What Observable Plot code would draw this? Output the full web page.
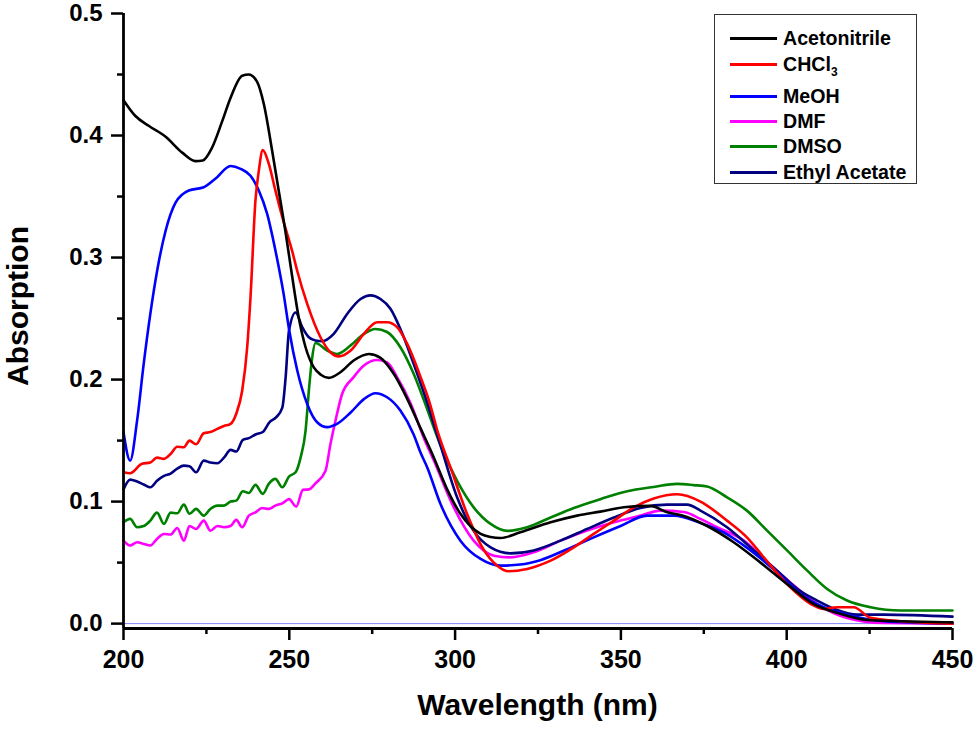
<!DOCTYPE html>
<html><head><meta charset="utf-8">
<script src="https://cdn.jsdelivr.net/npm/d3@7"></script>
<script src="https://cdn.jsdelivr.net/npm/@observablehq/plot@0.6"></script>
<style>
body{margin:0;background:#fff;}
#wrap{position:relative;width:975px;height:731px;font-family:"Liberation Sans",Arial,sans-serif;overflow:hidden;}
#legend{position:absolute;left:714px;top:14px;width:203px;height:170px;border:1.5px solid #333;background:#fff;box-sizing:border-box;}
.row{position:absolute;left:0;height:0;}
.sw{position:absolute;left:15px;width:47px;height:3px;margin-top:-1.5px;}
.lb{position:absolute;left:68px;top:-12px;font-size:19.6px;font-weight:bold;white-space:nowrap;line-height:24px;color:#000;}
.lb sub{font-size:12px;vertical-align:-5px;line-height:0;}
.title{position:absolute;font-size:30px;font-weight:bold;line-height:30px;height:30px;text-align:center;color:#000;white-space:nowrap;}
#xtitle{left:123px;width:829px;top:690px;}
#ytitle{left:-132px;width:300px;top:291px;transform:rotate(-90deg);transform-origin:50% 50%;}
</style>
</head><body>
<div id="wrap"></div>
<script>
// wavelength (nm), absorption
const acetonitrile = [[200,0.429],[203.6,0.416],[207.6,0.408],[212.7,0.399],[217.7,0.386],[221.7,0.379],[223.9,0.3795],[226.7,0.390],[229.8,0.412],[232.3,0.431],[235.8,0.449],[237.8,0.450],[240.3,0.444],[242.3,0.426],[244.8,0.388],[246.8,0.355],[248.8,0.322],[250.4,0.293],[252.9,0.250],[254.9,0.2265],[257.4,0.210],[259.5,0.204],[261.9,0.2014],[265.4,0.206],[269.4,0.2156],[274.0,0.221],[277.5,0.2178],[281.5,0.2047],[285.6,0.184],[289.6,0.160],[293.6,0.136],[297.6,0.110],[301.6,0.090],[304.6,0.080],[307.7,0.0735],[310.7,0.0710],[313.7,0.0702],[319.7,0.0748],[328.8,0.083],[336.8,0.0885],[343.8,0.0918],[350.9,0.0953],[358.9,0.0965],[364,0.0912],[368,0.089],[376,0.080],[384,0.0667],[392.1,0.050],[400.1,0.0325],[408.2,0.016],[416.2,0.008],[424.3,0.003],[434.3,0.002],[450,0.001]];
const chcl3 = [[200,0.124],[202,0.1232],[205.6,0.131],[208.1,0.132],[210.1,0.136],[212.2,0.135],[214.2,0.139],[216.2,0.145],[218.2,0.1445],[219.9,0.150],[221.9,0.147],[224.2,0.156],[226.2,0.157],[228.3,0.1596],[230.3,0.162],[232.3,0.1637],[234,0.172],[235.8,0.191],[237.3,0.2265],[238.3,0.2675],[239.8,0.347],[240.8,0.371],[242,0.388],[243.8,0.377],[245.8,0.355],[247.9,0.333],[250.9,0.305],[252.4,0.289],[255.4,0.262],[259.4,0.2347],[262.4,0.2224],[264.9,0.219],[268.5,0.2238],[272.5,0.2375],[276.5,0.247],[279.5,0.247],[282.5,0.243],[285.6,0.229],[289.6,0.202],[292.1,0.183],[295,0.155],[298.6,0.128],[303.6,0.090],[308.2,0.0625],[312.7,0.0475],[316.2,0.0429],[321.7,0.0448],[328.8,0.0516],[335.8,0.0625],[341.8,0.0735],[347.9,0.0844],[353.9,0.0953],[359.9,0.1025],[367,0.106],[374,0.100],[382,0.0844],[388,0.0707],[393.1,0.0543],[400.1,0.0325],[408.2,0.0148],[411,0.012],[415.2,0.0134],[420.2,0.0134],[425.3,0.0047],[434.3,0.002],[450,0]];
const meoh = [[200,0.157],[202,0.1336],[204.1,0.1664],[206.1,0.213],[208.1,0.254],[210.2,0.290],[212.7,0.322],[215.7,0.345],[219.7,0.355],[224.2,0.3576],[227.7,0.3645],[232.3,0.375],[235.3,0.3727],[238.3,0.367],[240.8,0.355],[243.3,0.336],[245.8,0.306],[248.3,0.270],[250,0.240],[252.4,0.2074],[255.4,0.180],[258.4,0.165],[261.4,0.161],[264.4,0.1637],[268.5,0.173],[272.5,0.184],[276,0.1888],[279.5,0.1855],[283.5,0.1746],[287.5,0.155],[289.6,0.140],[291.6,0.128],[295.6,0.098],[301.6,0.068],[307.7,0.053],[313.7,0.0475],[319.7,0.0484],[325.7,0.052],[333.8,0.061],[341.8,0.0707],[349.9,0.080],[357.9,0.0885],[366,0.0885],[374,0.0825],[381,0.0748],[389.1,0.060],[397.1,0.042],[404.2,0.0243],[411.2,0.0134],[419.2,0.0066],[429.3,0.002],[450,0]];
const dmf = [[200,0.068],[202,0.064],[204.1,0.0667],[206.1,0.0653],[208.1,0.064],[210.1,0.0694],[212.2,0.0735],[214.2,0.073],[216.2,0.0784],[218.2,0.068],[219.9,0.080],[221.9,0.0776],[224.2,0.0844],[226.2,0.0762],[228.3,0.080],[230.3,0.079],[232.3,0.080],[234,0.085],[235.8,0.079],[237.8,0.0885],[239.8,0.0912],[241.8,0.0948],[243.8,0.094],[245.8,0.0967],[247.9,0.0986],[249.9,0.102],[252.1,0.0959],[254.1,0.1096],[255.9,0.110],[257.9,0.115],[260.9,0.125],[262.4,0.147],[264.4,0.172],[265.9,0.188],[269.4,0.202],[272.5,0.2115],[276.5,0.216],[279.5,0.214],[282.5,0.202],[286.5,0.181],[290.6,0.152],[293.6,0.1336],[299.6,0.0953],[305.6,0.068],[311.7,0.0557],[316.7,0.0543],[323.7,0.0584],[331.8,0.068],[339.8,0.0762],[347.9,0.083],[355.9,0.0885],[361.9,0.0926],[369,0.0915],[374,0.0858],[379,0.079],[387.1,0.068],[393.1,0.053],[401.1,0.0338],[409.2,0.016],[418.2,0.0047],[429.3,0.0005],[450,0]];
const dmso = [[200,0.083],[202,0.0858],[204.1,0.079],[206.1,0.080],[208.1,0.0844],[210.1,0.091],[212.2,0.0817],[214.2,0.091],[216.2,0.0904],[218.2,0.0975],[219.9,0.090],[221.9,0.094],[224.2,0.0885],[226.2,0.094],[228.3,0.0967],[230.3,0.0967],[232.3,0.100],[234,0.1008],[236,0.1085],[237.8,0.107],[239.8,0.1137],[242,0.1063],[243.8,0.1145],[245.8,0.1186],[247.9,0.1117],[249.9,0.1205],[251.9,0.124],[253.4,0.136],[254.9,0.158],[255.9,0.191],[256.9,0.218],[257.9,0.230],[261.4,0.2238],[264.4,0.221],[268.5,0.228],[272.5,0.2375],[276,0.2415],[279.5,0.239],[283.5,0.2265],[287.5,0.2047],[290.6,0.183],[295.6,0.146],[300.6,0.117],[305.6,0.0953],[310.7,0.0817],[315.7,0.076],[321.7,0.079],[328.8,0.087],[335.8,0.0948],[343.8,0.102],[351.9,0.1085],[359.9,0.112],[367,0.1145],[372,0.1135],[376,0.1123],[382,0.1035],[388,0.0926],[394.1,0.0762],[400.1,0.060],[406.2,0.0434],[412.2,0.0284],[418.2,0.0189],[425.3,0.0134],[434.3,0.0107],[450,0.0107]];
const ethylAcetate = [[200,0.110],[202,0.118],[204.1,0.1164],[206.1,0.114],[208.1,0.1117],[210.1,0.117],[212.2,0.121],[214.2,0.123],[216.2,0.127],[218.2,0.1295],[219.9,0.129],[221.9,0.124],[224.2,0.1336],[226.2,0.132],[228.3,0.1314],[230.3,0.136],[232.3,0.1424],[234,0.141],[236,0.1506],[237.8,0.152],[239.8,0.155],[242,0.157],[244,0.165],[246,0.169],[247.9,0.177],[248.9,0.202],[249.9,0.240],[251.9,0.255],[253.9,0.243],[255.9,0.2347],[257.9,0.232],[259.9,0.2314],[263.4,0.2375],[267.5,0.254],[271.5,0.266],[274.5,0.269],[277.5,0.266],[280.5,0.258],[283.5,0.2415],[287.5,0.213],[291.6,0.181],[295.6,0.146],[300.6,0.1035],[305.6,0.076],[310.7,0.0625],[316.7,0.0576],[323.7,0.060],[331.8,0.068],[339.8,0.0776],[347.9,0.087],[355.9,0.0948],[364,0.0975],[370,0.0975],[374,0.0926],[382,0.079],[390.1,0.060],[397.1,0.0434],[403.2,0.0284],[409.2,0.0189],[415.2,0.0112],[421.2,0.0074],[429.3,0.0074],[450,0.0057]];

const seriesNames = ["Acetonitrile", "CHCl<sub>3</sub>", "MeOH", "DMF", "DMSO", "Ethyl Acetate"];
const seriesColors = ["#000000", "#ff0000", "#0000ff", "#ff00ff", "#008000", "#000080"];
const seriesData = [acetonitrile, chcl3, meoh, dmf, dmso, ethylAcetate];
const drawOrder = [4, 3, 5, 2, 1, 0];

const xTicks = [200, 250, 300, 350, 400, 450];
const xMinor = [225, 275, 325, 375, 425];
const yTicks = [0, 0.1, 0.2, 0.3, 0.4, 0.5];
const yMinor = [0.05, 0.15, 0.25, 0.35, 0.45];
const xDomain = [200, 450];
const yDomain = [-0.004, 0.5];
const xLabel = "Wavelength (nm)";
const yLabel = "Absorption";

const font = "Liberation Sans, Arial, sans-serif";
const chart = Plot.plot({
  width: 975, height: 731,
  marginLeft: 123, marginRight: 23, marginTop: 13, marginBottom: 103,
  x: {domain: xDomain},
  y: {domain: yDomain},
  style: {fontFamily: font, background: "#fff", color: "#000"},
  marks: [
    Plot.ruleY([0], {stroke: "#3333ff", strokeWidth: 1, strokeOpacity: 0.6}),
    ...drawOrder.map(i => Plot.line(seriesData[i], {x: d => d[0], y: d => d[1], stroke: seriesColors[i], strokeWidth: 2.6, curve: "monotone-x"})),
    Plot.axisX({ticks: xTicks, tickSize: 12, tickPadding: 10, fontSize: 25, fontWeight: "bold", label: null, strokeWidth: 2.5, stroke: "#000"}),
    Plot.axisX({ticks: xMinor, tickSize: 6, tickFormat: () => "", label: null, strokeWidth: 2.5, stroke: "#000"}),
    Plot.axisY({ticks: yTicks, tickSize: 12, tickPadding: 9, tickFormat: d3.format(".1f"), fontSize: 24, fontWeight: "bold", label: null, strokeWidth: 2.5, stroke: "#000"}),
    Plot.axisY({ticks: yMinor, tickSize: 6, tickFormat: () => "", label: null, strokeWidth: 2.5, stroke: "#000"}),
    Plot.ruleY([yDomain[0]], {stroke: "#000", strokeWidth: 2.8}),
    Plot.ruleX([xDomain[0]], {stroke: "#000", strokeWidth: 2.8})
  ]
});
const wrap = document.getElementById("wrap");
wrap.appendChild(chart);

const xt = document.createElement("div");
xt.className = "title"; xt.id = "xtitle"; xt.textContent = xLabel;
wrap.appendChild(xt);
const yt = document.createElement("div");
yt.className = "title"; yt.id = "ytitle"; yt.textContent = yLabel;
wrap.appendChild(yt);

const legend = document.createElement("div");
legend.id = "legend";
const rowY = [23, 49, 81, 106, 131, 157];
seriesNames.forEach((n, i) => {
  const r = document.createElement("div");
  r.className = "row";
  r.style.top = rowY[i] + "px";
  r.innerHTML = `<div class="sw" style="background:${seriesColors[i]}"></div><div class="lb">${n}</div>`;
  legend.appendChild(r);
});
wrap.appendChild(legend);
</script>
</body></html>
